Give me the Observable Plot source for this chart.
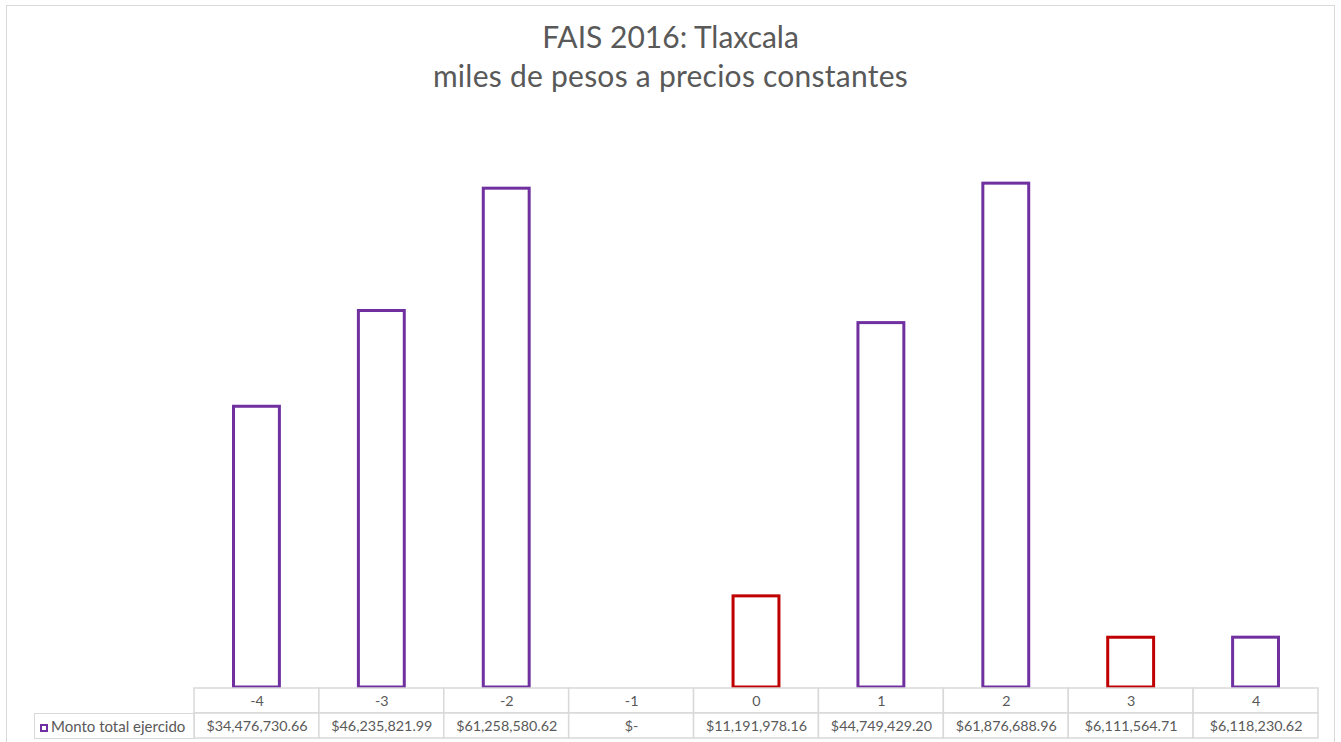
<!DOCTYPE html>
<html>
<head>
<meta charset="utf-8">
<script src="https://cdn.jsdelivr.net/npm/d3@7"></script>
<script src="https://cdn.jsdelivr.net/npm/@observablehq/plot@0.6"></script>
<style>
  html, body { margin: 0; padding: 0; background: #fff; }
  #wrap { position: relative; width: 1341px; height: 742px; overflow: hidden; font-family: Lato, "Open Sans", sans-serif; }
  #frame { position: absolute; left: 6px; top: 5px; width: 1329px; height: 760px; border: 1px solid #D9D9D9; box-sizing: border-box; }
  #title { position: absolute; left: 0; width: 1341px; top: 17px; text-align: center; color: #595959; font-size: 30px; line-height: 39px; }
  #title .l2 { letter-spacing: 0.25px; }
  #chart { position: absolute; left: 0; top: 0; }
  #table { position: absolute; left: 0; top: 687px; }
  #legend { position: absolute; left: 34px; top: 713px; width: 161px; height: 26px; border: 1px solid #D9D9D9; box-sizing: border-box; color: #595959; font-size: 15px; line-height: 25px; white-space: nowrap; }
  #legend .sw { display: inline-block; width: 4px; height: 4px; border: 2.5px solid #7030A0; margin: 0 3px 0 5px; vertical-align: 0px; }
</style>
</head>
<body>
<div id="wrap">
  <div id="frame"></div>
  <div id="title">FAIS 2016: Tlaxcala<br><span class="l2">miles de pesos a precios constantes</span></div>
  <div id="chart"></div>
  <div id="table"></div>
  <div id="legend"><span class="sw"></span>Monto total ejercido</div>
</div>
<script>
// ---- data ----
const categories = ["-4", "-3", "-2", "-1", "0", "1", "2", "3", "4"];
const values = [34476730.66, 46235821.99, 61258580.62, 0, 11191978.16, 44749429.20, 61876688.96, 6111564.71, 6118230.62];
const highlighted = ["0", "3"];
const seriesName = "Monto total ejercido";
const rows = ["header", "values"];

const purple = "#7030A0", red = "#C00000", grid = "#D9D9D9", textCol = "#595959";

const data = categories.map((c, i) => ({cat: c, value: values[i]}));
const fmt = v => v === 0 ? "$-" : d3.format("$,.2f")(v);

const xOpts = {domain: categories, padding: 0, round: false, axis: null};

const chart = Plot.plot({
  width: 1341,
  height: 688,
  marginLeft: 194,
  marginRight: 23,
  marginTop: 117,
  marginBottom: 1,
  x: xOpts,
  y: {domain: [0, 70e6], axis: null},
  style: {background: "transparent"},
  marks: [
    Plot.barY(data.filter(d => d.value > 0), {
      x: "cat", y: "value",
      fill: "white",
      stroke: d => highlighted.includes(d.cat) ? red : purple,
      strokeWidth: 3,
      insetLeft: 39.5, insetRight: 39.5
    })
  ]
});
document.getElementById("chart").appendChild(chart);

const cells = [];
for (const d of data) {
  cells.push({cat: d.cat, row: "header", label: d.cat});
  cells.push({cat: d.cat, row: "values", label: fmt(d.value)});
}

const table = Plot.plot({
  width: 1341,
  height: 53,
  marginLeft: 194,
  marginRight: 23,
  marginTop: 1,
  marginBottom: 2,
  x: xOpts,
  y: {domain: rows, padding: 0, round: false, axis: null},
  style: {background: "transparent"},
  marks: [
    Plot.cell(cells, {x: "cat", y: "row", fill: "white", stroke: grid, strokeWidth: 1.5}),
    Plot.text(cells, {x: "cat", y: "row", text: "label", fill: textCol, fontSize: 14.3, fontFamily: "Lato, sans-serif"})
  ]
});
document.getElementById("table").appendChild(table);
</script>
</body>
</html>
